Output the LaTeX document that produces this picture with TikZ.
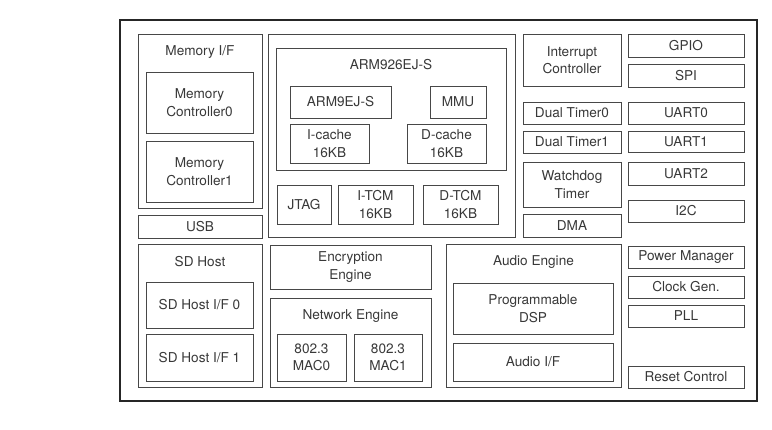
\documentclass[tikz,border=0pt]{standalone}
\usepackage{fontspec}
\setmainfont{TeX Gyre Heros}
\tikzset{
  blk/.style={draw=black!72, line width=0.9pt, inner sep=0pt, align=center,
    text=black!78, font=\fontsize{13.6}{17.4}\selectfont},
  lbl/.style={inner sep=0pt, text=black!78, font=\fontsize{13.6}{17.4}\selectfont},
  frame/.style={draw=black!85, line width=1.8pt}
}
\newcommand{\bx}[6]{\node[blk, minimum width={(#4-#2)*1pt}, minimum height={(#5-#3)*1pt}] (#1) at ({(#2+#4)/2},{(#3+#5)/2}) {#6};}
\begin{document}
\begin{tikzpicture}[x=1pt,y=-1pt]
\useasboundingbox (0,0) rectangle (772,429);
\node[frame, inner sep=0pt, minimum width=637pt, minimum height=381pt] (outer) at (438.5,210.5) {};
% left column
\bx{memif}{138}{34}{262}{208}{}
\node[lbl] (memifl) at (200,52) {Memory I/F};
\bx{mc0}{146}{72}{253}{133}{Memory\\Controller0}
\bx{mc1}{146}{141}{253}{202}{Memory\\Controller1}
\bx{usb}{138}{215}{262}{238}{USB}
% ARM block
\bx{arm}{268}{34}{515}{237}{}
\bx{arm926}{276}{48}{506}{170}{}
\node[lbl] (arm926l) at (391,65) {ARM926EJ-S};
\bx{arm9}{290}{86}{391}{118}{ARM9EJ-S}
\bx{mmu}{430}{86}{486}{118}{MMU}
\bx{icache}{290}{124}{369}{163}{I-cache\\16KB}
\bx{dcache}{407}{124}{486}{163}{D-cache\\16KB}
\bx{jtag}{277}{185}{331}{224}{JTAG}
\bx{itcm}{338}{185}{413}{224}{I-TCM\\16KB}
\bx{dtcm}{423}{185}{498}{224}{D-TCM\\16KB}
% column 3
\bx{intc}{523}{34}{621}{86}{Interrupt\\Controller}
\bx{dt0}{523}{102}{621}{124}{Dual Timer0}
\bx{dt1}{523}{131}{621}{153}{Dual Timer1}
\bx{wdt}{523}{162}{621}{207}{Watchdog\\Timer}
\bx{dma}{523}{214}{621}{237}{DMA}
% column 4
\bx{gpio}{628}{34}{744}{57}{GPIO}
\bx{spi}{628}{64}{744}{87}{SPI}
\bx{uart0}{628}{102}{744}{124}{UART0}
\bx{uart1}{628}{131}{744}{152}{UART1}
\bx{uart2}{628}{162}{744}{185}{UART2}
\bx{iic}{628}{200}{744}{222}{I2C}
% bottom
\bx{sdh}{138}{244}{262}{387}{}
\node[lbl] (sdhl) at (200,262) {SD Host};
\bx{sd0}{146}{282}{253}{328}{SD Host I/F 0}
\bx{sd1}{146}{334}{253}{381}{SD Host I/F 1}
\bx{enc}{270}{245}{431}{289}{Encryption\\Engine}
\bx{net}{270}{298}{431}{387}{}
\node[lbl] (netl) at (350.5,316) {Network Engine};
\bx{mac0}{277}{334}{346}{381}{802.3\\MAC0}
\bx{mac1}{354}{334}{422}{381}{802.3\\MAC1}
\bx{aud}{446}{244}{621}{387}{}
\node[lbl] (audl) at (533.5,262) {Audio Engine};
\bx{dsp}{453}{283}{613}{334}{Programmable\\DSP}
\bx{audif}{453}{343}{613}{381}{Audio I/F}
\bx{pwr}{628}{246}{744}{268}{Power Manager}
\bx{clk}{628}{276}{744}{298}{Clock Gen.}
\bx{pll}{628}{305}{744}{327}{PLL}
\bx{rst}{628}{366}{744}{388}{Reset Control}
\end{tikzpicture}
\end{document}
